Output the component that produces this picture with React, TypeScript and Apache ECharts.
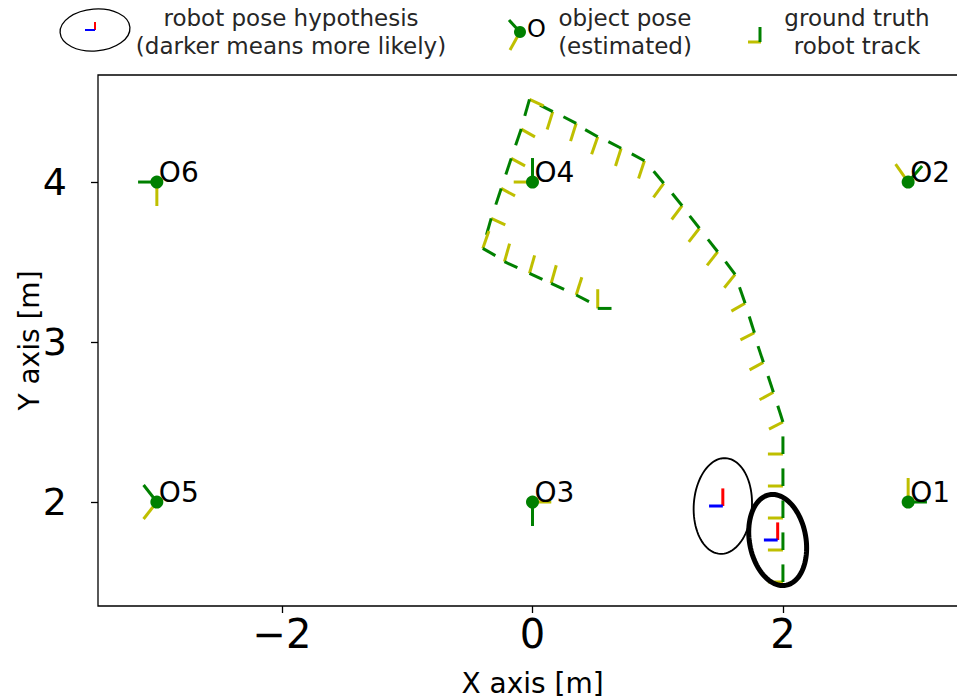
import React, { useEffect, useRef } from "react";
import * as echarts from "echarts";

// ---------- data ----------
// ground-truth robot track: pose position (m) and heading (deg)
const trackX = [2.0, 2.0, 2.0, 2.0, 2.0, 2.0, 1.924, 1.844, 1.772, 1.698, 1.618, 1.479, 1.333, 1.195, 1.048, 0.894, 0.708, 0.521, 0.349, 0.162, -0.024, -0.09, -0.17, -0.25, -0.33, -0.397, -0.224, -0.024, 0.149, 0.349, 0.521];
const trackY = [1.5, 1.7, 1.9, 2.1, 2.3, 2.5, 2.686, 2.873, 3.058, 3.242, 3.423, 3.564, 3.711, 3.852, 3.992, 4.133, 4.211, 4.283, 4.367, 4.44, 4.517, 4.331, 4.148, 3.96, 3.773, 3.585, 3.502, 3.429, 3.367, 3.294, 3.21];
const trackHeading = [90, 90, 90, 90, 90, 112, 113, 113, 112, 114, 134, 135, 135, 136, 137, 157, 158, 156, 158, 158, 250, 246, 247, 247, 250, -24, -20, -20, -20, -22, 0];

// estimated object poses
const objectNames = ["O1", "O2", "O3", "O4", "O5", "O6"];
const objectX = [3, 3, 0, 0, -3, -3];
const objectY = [2, 4, 2, 4, 2, 4];
const objectHeading = [0, 42, 270, 90, 135, 180];

// robot pose hypotheses (mean pose + uncertainty ellipse)
const hypX = [1.52, 1.958];
const hypY = [1.975, 1.7625];
const hypHeading = [90, 90];
const hypSemiMajor = [0.3, 0.292];
const hypSemiMinor = [0.232, 0.222];
const hypEllipseAngle = [83, 110];
const hypLikelihood = [0.15, 1.0];

const xTicks = [-2, 0, 2];
const yTicks = [2, 3, 4];

// ---------- styling constants ----------
const GREEN = "#008000";
const YELLOW = "#bfbf00";
const FONT = "DejaVu Sans";
const TRACK_LEN = 0.11;
const TRACK_SIDE_LEN = 0.12;
const OBJ_LEN = 0.15;

const fmt = (v: number) => (v < 0 ? "\u2212" + String(-v) : String(v));

export default function App() {
  const ref = useRef<HTMLDivElement>(null);

  useEffect(() => {
    if (!ref.current) return;
    const chart = echarts.init(ref.current, null, { renderer: "svg" });

    const trackData = trackX.map((x, i) => [x, trackY[i], trackHeading[i]]);
    const objectData = objectX.map((x, i) => [x, objectY[i], objectHeading[i]]);
    const hypData = hypX.map((x, i) => [
      x,
      hypY[i],
      hypHeading[i],
      hypSemiMajor[i],
      hypSemiMinor[i],
      hypEllipseAngle[i],
      hypLikelihood[i],
    ]);

    const axisEnds = (api: any, x: number, y: number, deg: number, len: number, sideLen: number) => {
      const th = (deg * Math.PI) / 180;
      const p = api.coord([x, y]);
      const f = api.coord([x + len * Math.cos(th), y + len * Math.sin(th)]);
      const l = api.coord([x - sideLen * Math.sin(th), y + sideLen * Math.cos(th)]);
      return { p, f, l };
    };

    const option: any = {
      animation: false,
      backgroundColor: "#ffffff",
      grid: {
        left: 98,
        top: 75,
        width: 869,
        height: 531,
        show: true,
        borderColor: "#000",
        borderWidth: 1.3,
        backgroundColor: "transparent",
        containLabel: false,
        outerBoundsMode: "none",
      },
      xAxis: {
        type: "value",
        min: -3.47,
        max: 3.47,
        name: "X axis [m]",
        nameLocation: "middle",
        nameGap: 63,
        nameMoveOverlap: false,
        nameTextStyle: { fontSize: 28, fontFamily: FONT, color: "#000" },
        axisLine: { show: false, onZero: false },
        splitLine: { show: false },
        axisTick: {
          show: true,
          customValues: xTicks,
          length: 7,
          lineStyle: { color: "#000", width: 1.3 },
        },
        axisLabel: {
          customValues: xTicks,
          formatter: fmt,
          fontSize: 40,
          fontFamily: FONT,
          color: "#000",
          margin: 8,
        },
      },
      yAxis: {
        type: "value",
        min: 1.35,
        max: 4.669,
        name: "Y axis [m]",
        nameLocation: "middle",
        nameGap: 55,
        nameRotate: 90,
        nameMoveOverlap: false,
        nameTextStyle: { fontSize: 28, fontFamily: FONT, color: "#000" },
        axisLine: { show: false, onZero: false },
        splitLine: { show: false },
        axisTick: {
          show: true,
          customValues: yTicks,
          length: 7,
          lineStyle: { color: "#000", width: 1.3 },
        },
        axisLabel: {
          customValues: yTicks,
          formatter: fmt,
          fontSize: 38,
          fontFamily: FONT,
          color: "#000",
          margin: 31,
        },
      },
      series: [
        {
          type: "custom",
          name: "track",
          data: trackData,
          z: 2,
          renderItem: (params: any, api: any) => {
            const { p, f, l } = axisEnds(api, api.value(0), api.value(1), api.value(2), TRACK_LEN, TRACK_SIDE_LEN);
            return {
              type: "group",
              children: [
                {
                  type: "line",
                  shape: { x1: p[0], y1: p[1], x2: l[0], y2: l[1] },
                  style: { stroke: YELLOW, lineWidth: 3 },
                },
                {
                  type: "line",
                  shape: { x1: p[0], y1: p[1], x2: f[0], y2: f[1] },
                  style: { stroke: GREEN, lineWidth: 3 },
                },
              ],
            };
          },
        },
        {
          type: "custom",
          name: "objects",
          data: objectData,
          z: 3,
          renderItem: (params: any, api: any) => {
            const { p, f, l } = axisEnds(api, api.value(0), api.value(1), api.value(2), OBJ_LEN, OBJ_LEN);
            return {
              type: "group",
              children: [
                {
                  type: "line",
                  shape: { x1: p[0], y1: p[1], x2: f[0], y2: f[1] },
                  style: { stroke: GREEN, lineWidth: 3 },
                },
                {
                  type: "line",
                  shape: { x1: p[0], y1: p[1], x2: l[0], y2: l[1] },
                  style: { stroke: YELLOW, lineWidth: 3 },
                },
                {
                  type: "circle",
                  shape: { cx: p[0], cy: p[1], r: 6.5 },
                  style: { fill: GREEN },
                },
                {
                  type: "text",
                  x: p[0] + 2,
                  y: p[1] - 10,
                  style: {
                    text: objectNames[params.dataIndex],
                    fontSize: 28,
                    fontFamily: FONT,
                    fill: "#000",
                    align: "left",
                    verticalAlign: "middle",
                  },
                },
              ],
            };
          },
        },
        {
          type: "custom",
          name: "hypotheses",
          data: hypData,
          z: 4,
          renderItem: (params: any, api: any) => {
            const cx = api.value(0);
            const cy = api.value(1);
            const a = api.value(3);
            const b = api.value(4);
            const ang = (api.value(5) * Math.PI) / 180;
            const w = api.value(6);
            const pts: number[][] = [];
            const N = 90;
            for (let k = 0; k < N; k++) {
              const t = (2 * Math.PI * k) / N;
              const dx = a * Math.cos(t) * Math.cos(ang) - b * Math.sin(t) * Math.sin(ang);
              const dy = a * Math.cos(t) * Math.sin(ang) + b * Math.sin(t) * Math.cos(ang);
              pts.push(api.coord([cx + dx, cy + dy]));
            }
            const { p, f, l } = axisEnds(api, cx, cy, api.value(2), TRACK_LEN, TRACK_LEN);
            return {
              type: "group",
              children: [
                {
                  type: "polygon",
                  shape: { points: pts },
                  style: { fill: "none", stroke: "#000", lineWidth: 1.3 + 3.7 * w },
                },
                {
                  type: "line",
                  shape: { x1: p[0], y1: p[1], x2: f[0], y2: f[1] },
                  style: { stroke: "#ff0000", lineWidth: 3 },
                },
                {
                  type: "line",
                  shape: { x1: p[0], y1: p[1], x2: l[0], y2: l[1] },
                  style: { stroke: "#0000ff", lineWidth: 3 },
                },
              ],
            };
          },
        },
      ],
      graphic: [
        // legend item 1: pose hypothesis
        {
          type: "ellipse",
          shape: { cx: 95, cy: 30, rx: 35, ry: 21 },
          rotation: 0.08,
          originX: 95,
          originY: 30,
          style: { fill: "none", stroke: "#000", lineWidth: 1.3 },
        },
        { type: "line", shape: { x1: 95, y1: 22, x2: 95, y2: 30 }, style: { stroke: "#ff0000", lineWidth: 2 } },
        { type: "line", shape: { x1: 85, y1: 30, x2: 95, y2: 30 }, style: { stroke: "#0000ff", lineWidth: 2 } },
        {
          type: "text",
          x: 291,
          y: 32,
          style: {
            text: "robot pose hypothesis\n(darker means more likely)",
            fontSize: 23,
            lineHeight: 28,
            fontFamily: FONT,
            fill: "#262626",
            align: "center",
            verticalAlign: "middle",
          },
        },
        // legend item 2: object pose
        { type: "line", shape: { x1: 520, y1: 32, x2: 509, y2: 20 }, style: { stroke: GREEN, lineWidth: 3 } },
        { type: "line", shape: { x1: 520, y1: 32, x2: 510, y2: 50 }, style: { stroke: YELLOW, lineWidth: 3 } },
        { type: "circle", shape: { cx: 520, cy: 32, r: 6 }, style: { fill: GREEN } },
        {
          type: "text",
          x: 527,
          y: 29,
          style: { text: "O", fontSize: 24, fontFamily: FONT, fill: "#000", align: "left", verticalAlign: "middle" },
        },
        {
          type: "text",
          x: 625,
          y: 32,
          style: {
            text: "object pose\n(estimated)",
            fontSize: 23,
            lineHeight: 28,
            fontFamily: FONT,
            fill: "#262626",
            align: "center",
            verticalAlign: "middle",
          },
        },
        // legend item 3: ground-truth track
        { type: "line", shape: { x1: 748, y1: 42, x2: 761, y2: 42 }, style: { stroke: YELLOW, lineWidth: 3 } },
        { type: "line", shape: { x1: 760, y1: 27, x2: 760, y2: 42 }, style: { stroke: GREEN, lineWidth: 3 } },
        {
          type: "text",
          x: 857,
          y: 32,
          style: {
            text: "ground truth\nrobot track",
            fontSize: 23,
            lineHeight: 28,
            fontFamily: FONT,
            fill: "#262626",
            align: "center",
            verticalAlign: "middle",
          },
        },
      ],
    };

    chart.setOption(option);
    return () => chart.dispose();
  }, []);

  return (
    <div
      ref={ref}
      style={{ position: "absolute", left: 0, top: 0, width: 957, height: 699, background: "#fff" }}
    />
  );
}
